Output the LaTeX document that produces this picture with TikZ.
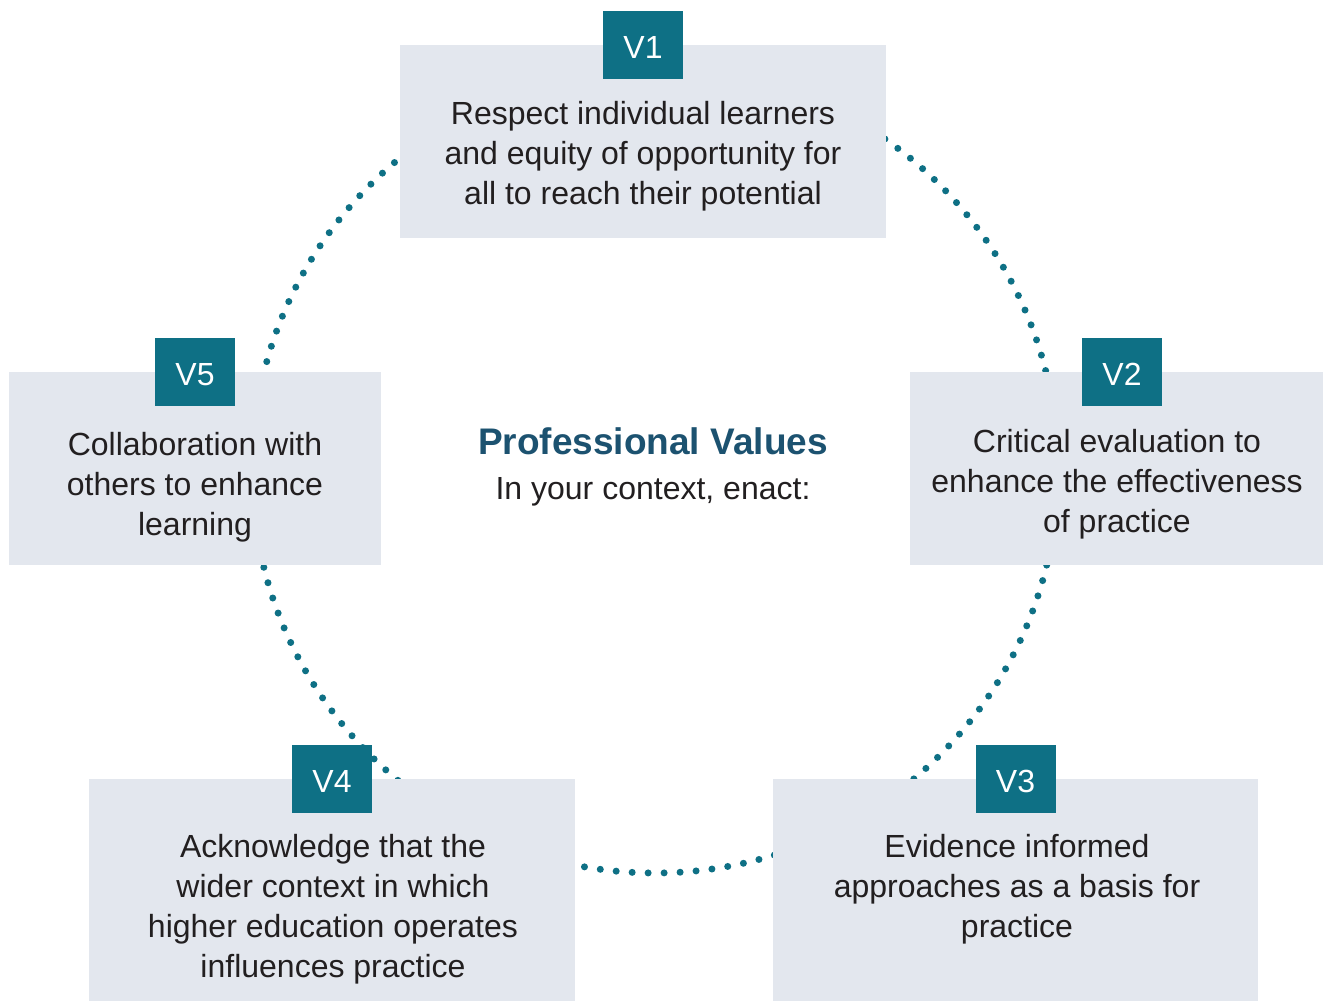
\documentclass[tikz,border=0pt]{standalone}
\usepackage{fontspec}
\setmainfont{Liberation Sans}
\usetikzlibrary{positioning}

\definecolor{boxgrey}{RGB}{227,231,238}
\definecolor{tagteal}{RGB}{14,112,133}
\definecolor{titleblue}{RGB}{28,82,112}
\definecolor{inkgrey}{RGB}{34,31,32}

\begin{document}
\begin{tikzpicture}[x=1pt,y=-1pt]
	\tikzstyle{valuebox}=[rectangle,fill=boxgrey,inner sep=0pt]
	\tikzstyle{valuetag}=[rectangle,fill=tagteal,text=white,minimum width=80pt,minimum height=68pt,inner sep=0pt,text height=28pt,font=\fontsize{32}{40}\selectfont]
	\tikzstyle{valuetext}=[align=center,inner sep=0pt,text=inkgrey,font=\fontsize{32}{40}\selectfont]
	\tikzstyle{ring}=[draw=tagteal,line width=7pt,line cap=round,dash pattern=on 0pt off 16pt]

	\useasboundingbox[fill=white] (0,0) rectangle (1323,1001);

	%dotted ring, boxes sit on top of it
	\coordinate (centre) at (655,470);
	\draw[ring] (centre) circle (403);

	%centre title
	\node[inner sep=0pt,text=titleblue,font=\fontsize{37}{40}\selectfont\bfseries] (title) at (653,441) {Professional Values};
	\node[valuetext] (subtitle) at (653,492) {In your context, enact:};

	%value 1
	\node[valuebox,minimum width=486pt,minimum height=193pt] (v1) at (643,141.5) {};
	\node[valuetag] (v1tag) at (v1.north) {V1};
	\node[valuetext] (v1text) at (643,156) {Respect individual learners\\and equity of opportunity for\\all to reach their potential};

	%value 2
	\node[valuebox,minimum width=413pt,minimum height=193pt] (v2) at (1116.5,468.5) {};
	\node[valuetag,xshift=5.5pt] (v2tag) at (v2.north) {V2};
	\node[valuetext] (v2text) at (1117,484) {Critical evaluation to\\enhance the effectiveness\\of practice};

	%value 3
	\node[valuebox,minimum width=485pt,minimum height=222pt] (v3) at (1015.5,890) {};
	\node[valuetag] (v3tag) at (v3.north) {V3};
	\node[valuetext] (v3text) at (1017,889) {Evidence informed\\approaches as a basis for\\practice};

	%value 4
	\node[valuebox,minimum width=486pt,minimum height=222pt] (v4) at (332,890) {};
	\node[valuetag] (v4tag) at (v4.north) {V4};
	\node[valuetext] (v4text) at (333,909) {Acknowledge that the\\wider context in which\\higher education operates\\influences practice};

	%value 5
	\node[valuebox,minimum width=372pt,minimum height=193pt] (v5) at (195,468.5) {};
	\node[valuetag] (v5tag) at (v5.north) {V5};
	\node[valuetext] (v5text) at (195,487) {Collaboration with\\others to enhance\\learning};

\end{tikzpicture}
\end{document}
